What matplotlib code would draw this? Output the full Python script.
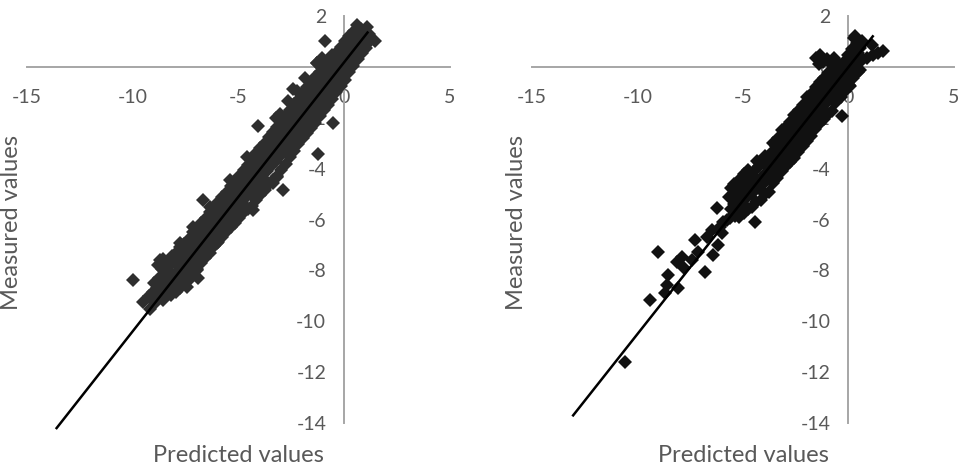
import numpy as np
import matplotlib.pyplot as plt

# axis ticks
x_ticks = [-15, -10, -5, 0, 5]
y_ticks = [2, 0, -2, -4, -6, -8, -10, -12, -14]

# left panel: predicted vs measured
left_pred = [
    -9.97, -9.50, -6.66, -6.90, -4.08, -2.42, -0.91, -1.24, -0.52, -2.88, 0.59, 1.06, 1.45,
    -8.71, -7.77, -7.14, -6.35, -5.40, -4.61, -6.98, -6.03, -4.30, -3.19, -1.30, -3.37, -7.44,
    -9.17, -9.24,
    -8.97, -9.04, -8.98,
    -8.77, -8.84, -8.75, -8.82,
    -8.57, -8.64, -8.55, -8.62, -8.56,
    -8.37, -8.44, -8.35, -8.42,
    -8.17, -8.24, -8.15, -8.22, -8.16,
    -7.97, -8.04, -7.95, -8.02, -7.96,
    -7.77, -7.84, -7.75, -7.82, -7.76,
    -7.57, -7.64, -7.55, -7.62, -7.56,
    -7.37, -7.44, -7.35, -7.42, -7.36,
    -7.17, -7.24, -7.15, -7.22, -7.16,
    -6.97, -7.04, -6.95, -7.02, -6.96,
    -6.77, -6.84, -6.75, -6.82, -6.76,
    -6.57, -6.64, -6.55, -6.62, -6.56,
    -6.37, -6.44, -6.35, -6.42, -6.36,
    -6.17, -6.24, -6.15, -6.22, -6.16,
    -5.97, -6.04, -5.95, -6.02, -5.96,
    -5.77, -5.84, -5.75, -5.82, -5.76,
    -5.57, -5.64, -5.55, -5.62, -5.56,
    -5.37, -5.44, -5.35, -5.42, -5.36,
    -5.17, -5.24, -5.15, -5.22, -5.16,
    -4.97, -5.04, -4.95, -5.02, -4.96,
    -4.77, -4.84, -4.75, -4.82, -4.76,
    -4.57, -4.64, -4.55, -4.62, -4.56,
    -4.37, -4.44, -4.35, -4.42, -4.36,
    -4.17, -4.24, -4.15, -4.22, -4.16,
    -3.97, -4.04, -3.95, -4.02, -3.96,
    -3.77, -3.84, -3.75, -3.82, -3.76,
    -3.57, -3.64, -3.55, -3.62, -3.56,
    -3.37, -3.44, -3.35, -3.42, -3.36,
    -3.17, -3.24, -3.15, -3.22, -3.16, -3.25,
    -2.97, -3.04, -2.95, -3.02, -2.96, -3.05,
    -2.77, -2.84, -2.75, -2.82, -2.76,
    -2.57, -2.64, -2.55, -2.62, -2.56, -2.65,
    -2.37, -2.44, -2.35, -2.42, -2.36,
    -2.17, -2.24, -2.15, -2.22, -2.16, -2.25,
    -1.97, -2.04, -1.95, -2.02, -1.96,
    -1.77, -1.84, -1.75, -1.82, -1.76, -1.85,
    -1.57, -1.64, -1.55, -1.62, -1.56,
    -1.37, -1.44, -1.35, -1.42, -1.36, -1.30,
    -1.17, -1.24, -1.15, -1.22, -1.16,
    -0.97, -1.04, -0.95, -1.02, -0.96, -1.05,
    -0.77, -0.84, -0.75, -0.82, -0.76,
    -0.57, -0.64, -0.55, -0.62, -0.56,
    -0.37, -0.44, -0.35, -0.42, -0.36,
    -0.17, -0.24, -0.15, -0.22, -0.16,
    0.03, -0.04, 0.05, -0.02, 0.04,
    0.23, 0.16, 0.25, 0.18, 0.24,
    0.43, 0.36, 0.45, 0.38, 0.44,
    0.63, 0.56, 0.65, 0.58,
    0.83, 0.76, 0.85, 0.78,
    1.03, 0.96, 1.05,
    1.23, 1.16,
]
left_meas = [
    -8.38, -9.23, -5.23, -8.31, -2.32, -0.88, 1.00, -3.42, -2.21, -4.84, 1.65, 1.58, 1.00,
    -7.59, -6.93, -6.28, -5.49, -4.44, -3.53, -7.98, -6.93, -5.62, -4.31, 0.15, -4.57, -8.65,
    -9.50, -9.00,
    -9.30, -8.85, -8.50,
    -9.10, -8.70, -8.30, -7.80,
    -9.15, -8.80, -8.40, -7.95, -7.55,
    -8.95, -8.55, -8.20, -7.85,
    -8.95, -8.60, -8.20, -7.80, -7.45,
    -8.85, -8.45, -8.10, -7.70, -7.30,
    -8.70, -8.30, -7.95, -7.55, -7.10,
    -8.55, -8.10, -7.70, -7.30, -6.95,
    -8.40, -7.95, -7.55, -7.15, -6.75,
    -8.10, -7.70, -7.35, -6.95, -6.50,
    -7.95, -7.55, -7.15, -6.75, -6.35,
    -7.70, -7.30, -6.95, -6.55, -6.15,
    -7.50, -7.10, -6.75, -6.35, -5.95,
    -7.30, -6.90, -6.50, -6.10, -5.70,
    -7.05, -6.65, -6.30, -5.90, -5.50,
    -6.90, -6.50, -6.10, -5.70, -5.30,
    -6.70, -6.30, -5.90, -5.50, -5.10,
    -6.50, -6.10, -5.70, -5.30, -4.90,
    -6.30, -5.90, -5.50, -5.10, -4.70,
    -6.15, -5.70, -5.30, -4.90, -4.50,
    -5.95, -5.50, -5.10, -4.70, -4.30,
    -5.75, -5.30, -4.90, -4.50, -4.05,
    -5.60, -5.10, -4.70, -4.25, -3.85,
    -5.45, -4.95, -4.50, -4.05, -3.65,
    -5.25, -4.75, -4.30, -3.85, -3.40,
    -5.05, -4.55, -4.10, -3.65, -3.20,
    -4.85, -4.35, -3.90, -3.45, -3.00,
    -4.60, -4.10, -3.65, -3.20, -2.75,
    -4.45, -3.90, -3.45, -3.00, -2.55,
    -4.30, -3.70, -3.25, -2.80, -2.35, -2.00,
    -4.05, -3.50, -3.05, -2.60, -2.15, -1.85,
    -3.80, -3.25, -2.80, -2.35, -1.90,
    -3.55, -3.05, -2.60, -2.15, -1.70, -1.35,
    -3.30, -2.80, -2.35, -1.90, -1.45,
    -3.05, -2.55, -2.15, -1.70, -1.25, -0.95,
    -2.80, -2.35, -1.90, -1.45, -1.00,
    -2.60, -2.15, -1.70, -1.25, -0.80, -0.45,
    -2.40, -1.95, -1.50, -1.05, -0.60,
    -2.20, -1.75, -1.30, -0.85, -0.40, 0.15,
    -1.95, -1.50, -1.05, -0.60, -0.20,
    -1.70, -1.25, -0.80, -0.35, 0.05, 0.35,
    -1.50, -1.05, -0.60, -0.15, 0.25,
    -1.25, -0.80, -0.40, 0.00, 0.45,
    -1.00, -0.55, -0.15, 0.25, 0.60,
    -0.75, -0.30, 0.10, 0.45, 0.80,
    -0.50, -0.05, 0.30, 0.65, 1.00,
    -0.20, 0.15, 0.50, 0.85, 1.20,
    0.05, 0.40, 0.75, 1.10, 1.40,
    0.30, 0.65, 1.00, 1.30,
    0.55, 0.90, 1.20, 1.50,
    0.75, 1.10, 1.35,
    1.00, 1.30,
]
left_fit_x = [-13.6, 1.1]
left_fit_y = [-14.2, 1.35]

# right panel
right_pred = [
    -10.59, -9.41, -9.01, -8.54, -8.62, -8.70, -8.07, -7.90, -8.14, -7.80,
    -7.27, -7.43, -7.12, -6.80, -6.72, -6.41, -6.25, -6.17, -6.48, -6.09,
    -5.77, -5.38, -4.43, -6.00, -5.60, -5.95, -5.30,
    -5.57, -5.64, -5.55,
    -5.37, -5.44, -5.35, -5.42,
    -5.17, -5.24, -5.15, -5.22, -5.16,
    -4.97, -5.04, -4.95, -5.02, -4.96,
    -4.77, -4.84, -4.75, -4.82, -4.76,
    -4.57, -4.64, -4.55, -4.62,
    -4.37, -4.44, -4.35, -4.42, -4.36,
    -4.17, -4.24, -4.15, -4.22,
    -3.97, -4.04, -3.95, -4.02, -3.96,
    -3.77, -3.84, -3.75, -3.82,
    -3.57, -3.64, -3.55, -3.62, -3.56,
    -3.37, -3.44, -3.35, -3.42, -3.36,
    -3.17, -3.24, -3.15, -3.22, -3.16,
    -2.97, -3.04, -2.95, -3.02, -2.96,
    -2.77, -2.84, -2.75, -2.82, -2.76,
    -2.57, -2.64, -2.55, -2.62, -2.56,
    -2.37, -2.44, -2.35, -2.42, -2.36,
    -2.17, -2.24, -2.15, -2.22, -2.16,
    -1.97, -2.04, -1.95, -2.02, -1.96,
    -1.77, -1.84, -1.75, -1.82, -1.76,
    -1.57, -1.64, -1.55, -1.62, -1.56,
    -1.37, -1.44, -1.35, -1.42, -1.36,
    -1.17, -1.24, -1.15, -1.22, -1.16,
    -0.97, -1.04, -0.95, -1.02, -0.96,
    -0.77, -0.84, -0.75, -0.82,
    -0.57, -0.64, -0.55, -0.62,
    -0.37, -0.44, -0.35, -0.42,
    -0.17, -0.24, -0.15, -0.22,
    0.03, -0.04, 0.05, -0.02,
    0.23, 0.16, 0.25, 0.18, 0.24,
    0.43, 0.36, 0.45, 0.38, 0.30,
    0.63, 0.56, 0.65,
    -1.55, -1.35, -1.20, -1.00, -0.85, -0.70, -0.50, -1.40, -0.60, -0.90,
    0.60, 0.90, 1.15, 1.40, 1.65, 1.10,
    -0.32, 0.07, 0.54,
]
right_meas = [
    -11.59, -9.16, -7.26, -8.18, -8.57, -8.90, -8.70, -7.46, -7.66, -7.90,
    -6.80, -7.59, -7.26, -8.05, -6.67, -7.39, -5.56, -7.00, -6.41, -6.28,
    -6.02, -5.75, -6.08, -6.55, -5.95, -6.10, -5.10,
    -5.60, -5.10, -4.75,
    -5.85, -5.40, -5.00, -4.60,
    -5.90, -5.50, -5.10, -4.70, -4.40,
    -5.75, -5.30, -4.90, -4.50, -4.20,
    -5.60, -5.15, -4.75, -4.35, -4.05,
    -5.50, -5.00, -4.60, -4.20,
    -5.30, -4.85, -4.45, -4.05, -3.70,
    -5.25, -4.75, -4.35, -3.90,
    -5.00, -4.60, -4.20, -3.80, -3.50,
    -4.90, -4.40, -3.95, -3.55,
    -4.55, -4.15, -3.75, -3.35, -3.00,
    -4.35, -3.90, -3.50, -3.10, -2.80,
    -4.10, -3.70, -3.30, -2.90, -2.50,
    -3.90, -3.50, -3.10, -2.70, -2.35,
    -3.75, -3.30, -2.90, -2.50, -2.15,
    -3.60, -3.10, -2.70, -2.30, -1.90,
    -3.35, -2.90, -2.50, -2.10, -1.70,
    -3.10, -2.70, -2.30, -1.90, -1.50,
    -2.90, -2.45, -2.05, -1.65, -1.20,
    -2.70, -2.30, -1.85, -1.45, -1.05,
    -2.45, -2.05, -1.65, -1.20, -0.80,
    -2.20, -1.80, -1.40, -1.00, -0.60,
    -2.05, -1.60, -1.20, -0.80, -0.45,
    -1.85, -1.40, -1.00, -0.60, -0.25,
    -1.75, -1.25, -0.80, -0.40,
    -1.40, -1.00, -0.60, -0.20,
    -1.20, -0.80, -0.35, 0.00,
    -0.95, -0.55, -0.15, 0.20,
    -0.70, -0.30, 0.10, 0.45,
    -0.45, -0.10, 0.30, 0.70, 1.15,
    -0.20, 0.15, 0.55, 0.95, 1.20,
    0.30, 0.75, 1.00,
    0.35, 0.45, 0.20, 0.30, 0.10, 0.35, 0.15, 0.10, -0.10, -0.20,
    0.25, 0.35, 0.45, 0.55, 0.62, 0.85,
    -1.95, -0.77, -0.12,
]
right_fit_x = [-13.05, 1.15]
right_fit_y = [-13.7, 1.2]

plt.rcParams['font.family'] = ['Lato', 'DejaVu Sans']
plt.rcParams['axes.unicode_minus'] = False
text_col = '#595959'
axis_col = '#a6a6a6'

fig = plt.figure(figsize=(9.62, 4.73), dpi=100)
ax1 = fig.add_axes([27/962, 50/473, 423/962, 407/473])
ax2 = fig.add_axes([532/962, 50/473, 422/962, 407/473])


def setup(ax):
    ax.set_xlim(-15, 5)
    ax.set_ylim(-14, 2)
    ax.spines['top'].set_visible(False)
    ax.spines['right'].set_visible(False)
    ax.spines['left'].set_position(('data', 0))
    ax.spines['bottom'].set_position(('data', 0))
    for s in ['left', 'bottom']:
        ax.spines[s].set_color(axis_col)
        ax.spines[s].set_linewidth(1.4)
    ax.set_xticks(x_ticks)
    ax.set_yticks(y_ticks)
    ax.tick_params(axis='x', length=0, labelsize=14, colors=text_col, pad=16)
    ax.tick_params(axis='y', length=0, labelsize=14, colors=text_col, pad=13)
    ax.patch.set_alpha(0)


setup(ax1)
ax1.plot(left_pred, left_meas, 'D', ms=7, mew=0, color='#2e2e2e', zorder=3)
ax1.plot(left_fit_x, left_fit_y, color='black', lw=1.8, zorder=4, clip_on=False)

setup(ax2)
ax2.plot(right_pred, right_meas, 'D', ms=7, mew=0, color='#111111', zorder=3)
ax2.plot(right_fit_x, right_fit_y, color='black', lw=1.8, zorder=4, clip_on=False)

fig.text(238/962, 1 - 455/473, 'Predicted values', ha='center', va='center', fontsize=17, color=text_col)
fig.text(743/962, 1 - 455/473, 'Predicted values', ha='center', va='center', fontsize=17, color=text_col)
fig.text(12/962, 1 - 222/473, 'Measured values', ha='center', va='center', rotation=90, fontsize=17, color=text_col)
fig.text(517/962, 1 - 222/473, 'Measured values', ha='center', va='center', rotation=90, fontsize=17, color=text_col)

fig.savefig('out.png', dpi=100)
